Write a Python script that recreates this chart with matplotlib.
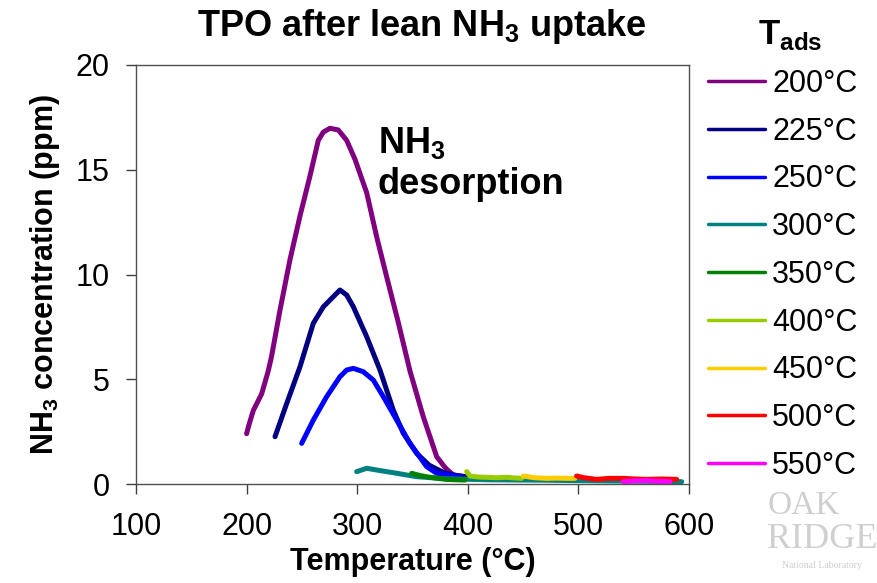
import matplotlib
matplotlib.use("Agg")
import matplotlib.pyplot as plt

plt.rcParams["font.family"] = ["Liberation Sans", "DejaVu Sans"]
plt.rcParams["mathtext.fontset"] = "custom"
plt.rcParams["mathtext.rm"] = "Liberation Sans:bold"
plt.rcParams["mathtext.bf"] = "Liberation Sans:bold"

# ---------------------------------------------------------------------------
# Data (temperature in degC, NH3 in ppm)
# ---------------------------------------------------------------------------
labels = ["200°C", "225°C", "250°C", "300°C", "350°C",
          "400°C", "450°C", "500°C", "550°C"]
colors = ["#800080", "#000080", "#0000FF", "#008080", "#008000",
          "#99CC00", "#FFCC00", "#FF0000", "#FF00FF"]

t200 = [200, 202, 206, 213.6, 219.6, 222.6, 230.2, 239.2, 248.3, 257.3,
        264.8, 269.4, 275.4, 282.9, 290.5, 298, 308.6, 317.6, 326.6, 337.2,
        347.7, 359.8, 371.9, 380, 386.9, 394.5]
c200 = [2.4, 2.8, 3.5, 4.3, 5.4, 6.1, 8.3, 10.7, 12.8, 14.7,
        16.4, 16.8, 16.98, 16.9, 16.4, 15.5, 13.9, 11.8, 9.9, 7.7,
        5.4, 3.2, 1.3, 0.75, 0.43, 0.38]

t225 = [225.7, 236.3, 248.3, 260.3, 269.4, 278.4, 284.4, 290.5, 296.5, 308.6,
        320.6, 332.6, 341.7, 353.8, 365, 378, 390, 398]
c225 = [2.26, 3.85, 5.6, 7.67, 8.46, 8.94, 9.26, 9.02, 8.46, 7.03,
        5.44, 3.53, 2.42, 1.46, 0.9, 0.55, 0.4, 0.35]

t250 = [249.8, 260.3, 272.4, 284.4, 290.5, 296.5, 305.5, 314.6, 323.6, 335.7,
        347.7, 356.8, 362.8, 371.9, 386.9, 393]
c250 = [1.94, 3.05, 4.17, 5.12, 5.44, 5.52, 5.36, 4.96, 4.17, 3.05,
        1.94, 1.27, 0.83, 0.51, 0.4, 0.35]

t300 = [299.5, 308.6, 320.6, 332.6, 344.7, 353.8, 380, 420, 470, 520, 560, 593.4]
c300 = [0.59, 0.75, 0.64, 0.54, 0.43, 0.35, 0.25, 0.2, 0.18, 0.15, 0.13, 0.11]

t350 = [349.3, 357, 365.8, 373, 380.9, 390, 397.5]
c350 = [0.51, 0.4, 0.32, 0.27, 0.22, 0.2, 0.19]

t400 = [399, 402, 410, 417, 426, 435, 442, 448.7]
c400 = [0.59, 0.38, 0.33, 0.32, 0.3, 0.32, 0.29, 0.27]

t450 = [450.2, 460, 471.3, 480, 490, 496.9]
c450 = [0.38, 0.3, 0.27, 0.28, 0.27, 0.27]

t500 = [498.4, 505, 516.5, 528, 540.6, 551, 561.7, 575, 588.9]
c500 = [0.38, 0.3, 0.22, 0.27, 0.27, 0.24, 0.22, 0.24, 0.22]

t550 = [540.6, 550, 561.7, 572, 582.8]
c550 = [0.11, 0.15, 0.16, 0.13, 0.11]

temps = [t200, t225, t250, t300, t350, t400, t450, t500, t550]
concs = [c200, c225, c250, c300, c350, c400, c450, c500, c550]

xticks = [100, 200, 300, 400, 500, 600]
yticks = [0, 5, 10, 15, 20]

# ---------------------------------------------------------------------------
fig = plt.figure(figsize=(8.77, 5.83), dpi=100)
ax = fig.add_axes([136 / 877, 1 - 484 / 583, 553 / 877, 419 / 583])

for t, c, col, lab in zip(temps, concs, colors, labels):
    ax.plot(t, c, color=col, lw=3.6, label=lab,
            solid_capstyle="round", solid_joinstyle="round")

ax.set_xlim(100, 600)
ax.set_ylim(0, 20)
ax.set_xticks(xticks)
ax.set_yticks(yticks)
ax.tick_params(direction="out", length=7, width=1, labelsize=22,
               color="#404040")
ax.tick_params(axis="x", pad=13)
ax.tick_params(axis="y", pad=12)
for s in ax.spines.values():
    s.set_color("#505050")
    s.set_linewidth(1)

ax.set_xlabel("Temperature (°C)", fontsize=22, fontweight="bold", labelpad=4)
ax.set_ylabel("NH$_3$ concentration (ppm)", fontsize=22, fontweight="bold",
              labelpad=10)

fig.text(422 / 877, 1 - 26 / 583, "TPO after lean NH$_3$ uptake",
         fontsize=26, fontweight="bold", ha="center", va="center")

# annotation next to the 200 degC peak
ax.text(318.5, 16.3, "NH$_3$", fontsize=26, fontweight="bold",
        ha="left", va="center")
ax.text(318.5, 14.3, "desorption", fontsize=26, fontweight="bold",
        ha="left", va="center")

# legend on the right, titled T_ads
leg = fig.legend(loc="upper left", bbox_to_anchor=(708 / 877, 1 - 69 / 583),
                 frameon=False, fontsize=22, handlelength=1.85,
                 handletextpad=0.25, labelspacing=0.58, borderpad=0,
                 borderaxespad=0)
for ln in leg.get_lines():
    ln.set_linewidth(2.5)
fig.text(790 / 877, 1 - 35 / 583, r"T$_{\mathbf{ads}}$", fontsize=25,
         fontweight="bold", ha="center", va="center")

# faded lab logo text
logo = "#cfcfcf"
fig.text(804 / 877, 1 - 506 / 583, "OAK", fontsize=24, color=logo,
         family="Liberation Serif", ha="center", va="center")
fig.text(822 / 877, 1 - 540 / 583, "RIDGE", fontsize=26, color=logo,
         family="Liberation Serif", ha="center", va="center")
fig.text(822 / 877, 1 - 566 / 583, "National Laboratory", fontsize=7,
         color=logo, family="Liberation Serif", ha="center", va="center")

fig.savefig("out.png", dpi=100)
